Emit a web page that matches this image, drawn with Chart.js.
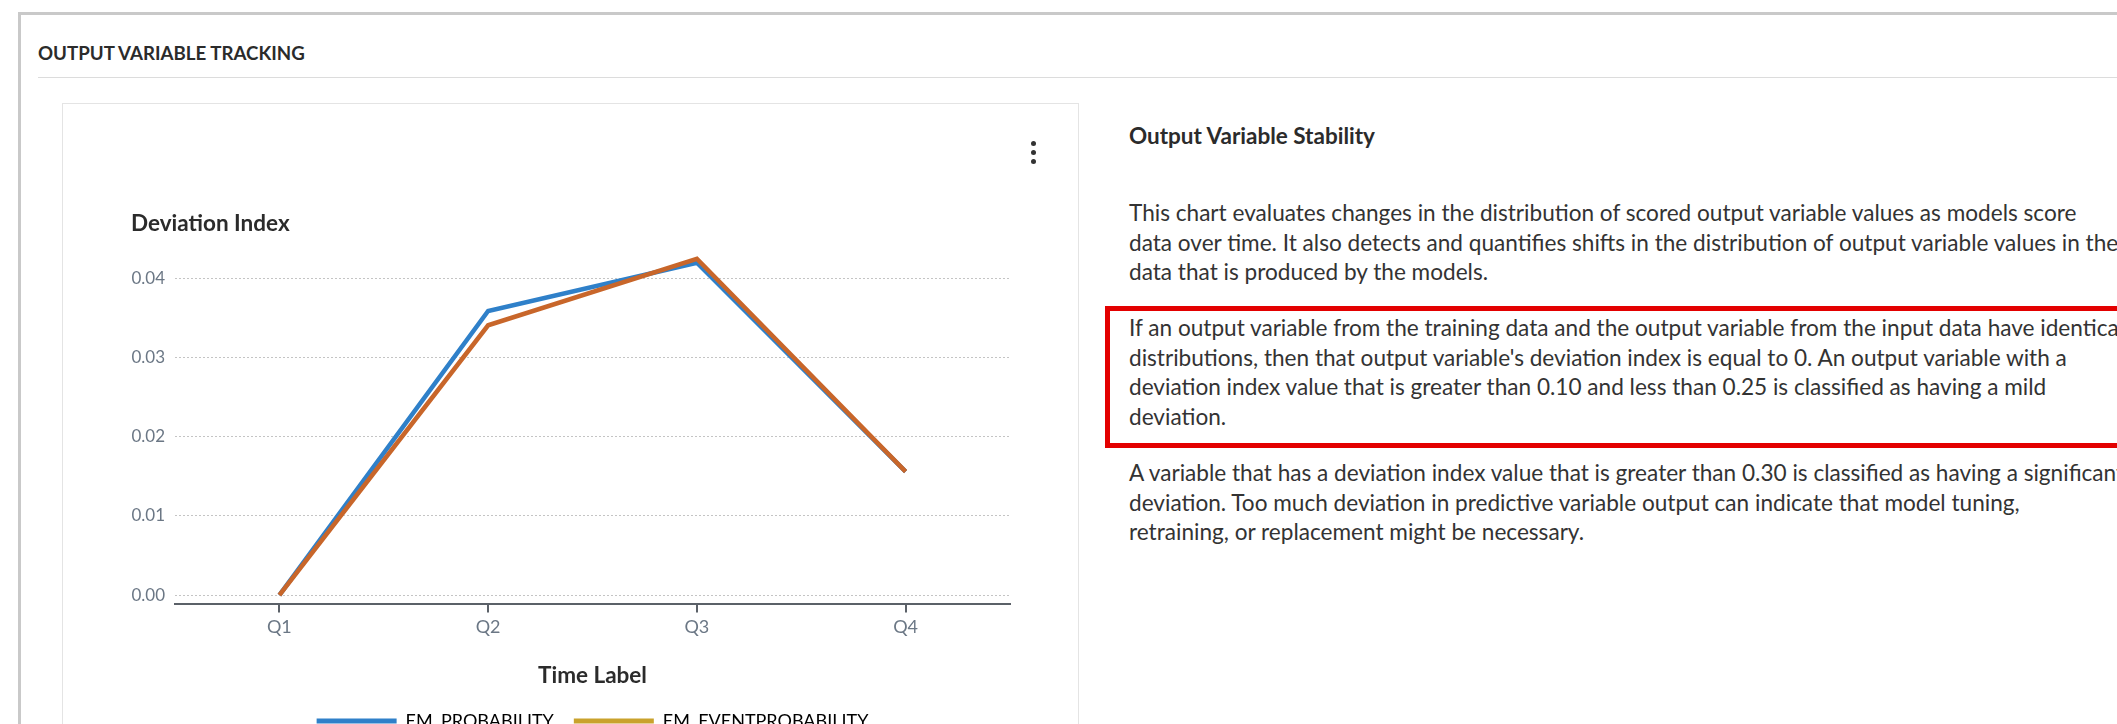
<!DOCTYPE html>
<html>
<head>
<meta charset="utf-8">
<script src="https://cdn.jsdelivr.net/npm/chart.js@4"></script>
<style>
  html, body { margin: 0; padding: 0; background: #fff; overflow: hidden; }
  body { width: 2117px; height: 724px; position: relative; font-family: Lato, "Open Sans", sans-serif; color: #333; }
  .panel { position: absolute; left: 18px; top: 12px; width: 2200px; height: 800px; border: 3px solid #c9c9c9; box-sizing: border-box; }
  .panelTitle { position: absolute; left: 38px; top: 41px; font-size: 18.7px; font-weight: 700; line-height: 24px; color: #2b2b2b; }
  .sep { position: absolute; left: 38px; top: 77px; width: 2200px; height: 1px; background: #dcdcdc; }
  .card { position: absolute; left: 62px; top: 103px; width: 1017px; height: 700px; border: 1px solid #e4e4e4; box-sizing: border-box; }
  .dot { position: absolute; left: 1031px; width: 5px; height: 5px; border-radius: 50%; background: #333; }
  #chartWrap { position: absolute; left: 62px; top: 103px; }
  .info { position: absolute; left: 1129px; white-space: nowrap; }
  .info h3 { position: absolute; left: 0; top: 121px; margin: 0; font-size: 22.5px; font-weight: 700; line-height: 30px; color: #2b2b2b; }
  .info p { position: absolute; left: 0; margin: 0; font-size: 22.6px; line-height: 29.7px; color: #333; }
  .redBox { position: absolute; left: 1105px; top: 306px; width: 1100px; height: 142px; border: 5px solid #e30000; box-sizing: border-box; }
</style>
</head>
<body>
<div class="panel"></div>
<div class="panelTitle">OUTPUT VARIABLE TRACKING</div>
<div class="sep"></div>
<div class="card"></div>
<div class="dot" style="top:141px"></div>
<div class="dot" style="top:150px"></div>
<div class="dot" style="top:159px"></div>
<div id="chartWrap"><canvas id="trackChart" width="1017" height="637"></canvas></div>

<div class="redBox"></div>
<div class="info" style="top:0">
  <h3>Output Variable Stability</h3>
  <p style="top:198px">This chart evaluates changes in the distribution of scored output variable values as models score<br>data over time. It also detects and quantifies shifts in the distribution of output variable values in the<br>data that is produced by the models.</p>
  <p style="top:313px">If an output variable from the training data and the output variable from the input data have identical<br>distributions, then that output variable's deviation index is equal to 0. An output variable with a<br>deviation index value that is greater than 0.10 and less than 0.25 is classified as having a mild<br>deviation.</p>
  <p style="top:458px">A variable that has a deviation index value that is greater than 0.30 is classified as having a significant<br>deviation. Too much deviation in predictive variable output can indicate that model tuning,<br>retraining, or replacement might be necessary.</p>
</div>

<script>
// Chart data
const timeLabels = ["Q1", "Q2", "Q3", "Q4"];
const seriesNames = ["EM_PROBABILITY", "EM_EVENTPROBABILITY"];
const emProbability = [0.0, 0.0359, 0.0420, 0.0156];
const emEventProbability = [0.0, 0.0341, 0.0425, 0.0156];
const yTicks = [0, 0.01, 0.02, 0.03, 0.04];

// colours: line colours and the legend swatch colours
const lineColors = ["#2f80c9", "#c8662a"];
const legendColors = ["#2f80c9", "#c9a22c"];

Chart.defaults.font.family = "Lato, 'Open Sans', sans-serif";
Chart.defaults.color = "#6b7785";

const ctx = document.getElementById("trackChart").getContext("2d");
new Chart(ctx, {
    type: "line",
    data: {
        labels: timeLabels,
        datasets: [
            {
                label: seriesNames[0],
                data: emProbability,
                borderColor: lineColors[0],
                backgroundColor: legendColors[0],
                borderWidth: 4.5,
                pointRadius: 0,
                tension: 0,
                order: 1
            },
            {
                label: seriesNames[1],
                data: emEventProbability,
                borderColor: lineColors[1],
                backgroundColor: legendColors[1],
                borderWidth: 4.5,
                pointRadius: 0,
                tension: 0,
                order: 0
            }
        ]
    },
    options: {
        responsive: false,
        animation: false,
        layout: { padding: { left: 69, right: 69, top: 85, bottom: 0 } },
        scales: {
            x: {
                offset: true,
                grid: {
                    offset: false,
                    drawOnChartArea: false,
                    drawTicks: true,
                    tickLength: 8,
                    color: "#5b6168",
                    lineWidth: 2
                },
                border: { display: true, color: "#5b6168", width: 2 },
                ticks: { padding: 4, color: "#6b7785", font: { size: 18 } },
                title: {
                    display: true,
                    text: "Time Label",
                    color: "#2b2b2b",
                    font: { size: 22.5, weight: "bold" },
                    padding: { top: 20, bottom: 3 }
                }
            },
            y: {
                min: -0.00117,
                max: 0.045,
                afterBuildTicks: (scale) => {
                    scale.ticks = yTicks.map(v => ({ value: v }));
                },
                afterFit: (scale) => { scale.width = 44; },
                grid: { color: "#c4c4c4", lineWidth: 1, drawTicks: false },
                border: { display: false, dash: [2, 2] },
                ticks: {
                    padding: 10,
                    color: "#6b7785",
                    font: { size: 17 },
                    callback: (v) => Number(v).toFixed(2)
                }
            }
        },
        plugins: {
            title: {
                display: true,
                text: "Deviation Index",
                align: "start",
                color: "#2b2b2b",
                font: { size: 22.5, weight: "bold" },
                padding: { top: 22, bottom: 2 }
            },
            legend: {
                display: true,
                position: "bottom",
                fullSize: false,
                labels: {
                    boxWidth: 80,
                    boxHeight: 5,
                    padding: 20,
                    color: "#6b7785",
                    font: { size: 18 },
                    generateLabels: (chart) => seriesNames.map((name, i) => ({
                        text: name,
                        fillStyle: legendColors[i],
                        strokeStyle: legendColors[i],
                        lineWidth: 0,
                        datasetIndex: i,
                        hidden: false
                    }))
                }
            },
            tooltip: { enabled: false }
        }
    }
});
</script>
</body>
</html>
